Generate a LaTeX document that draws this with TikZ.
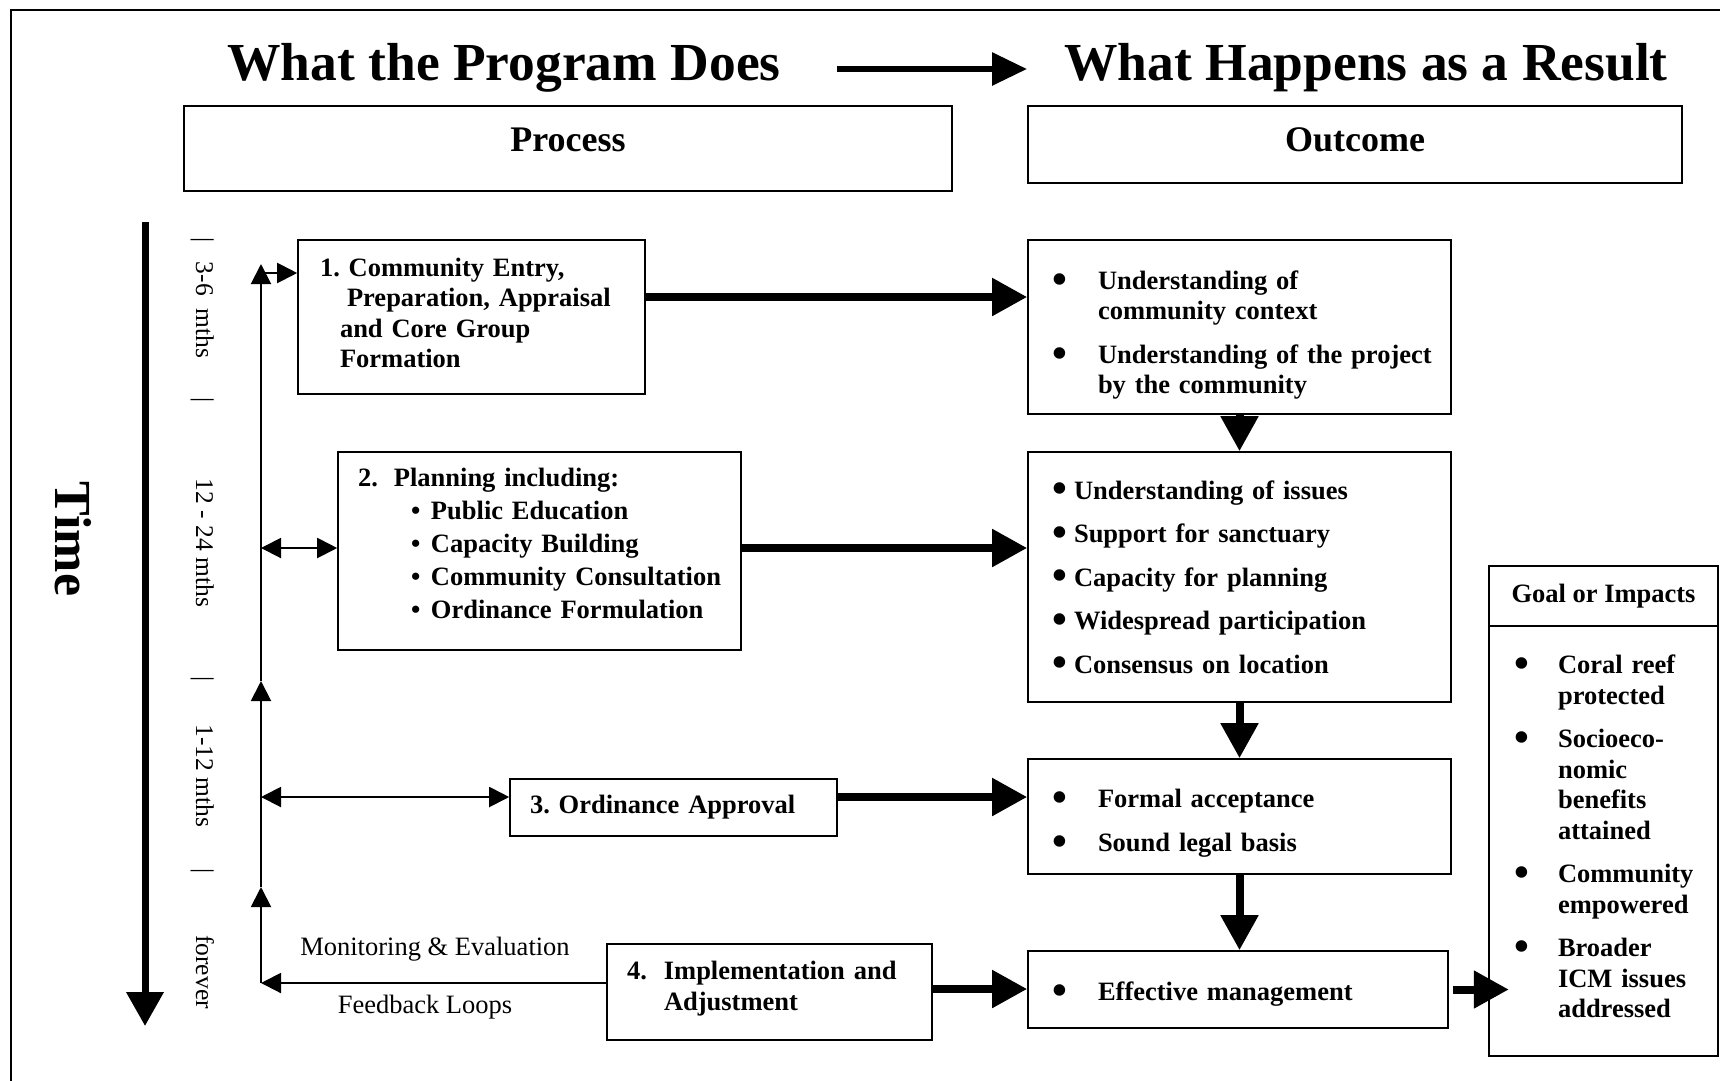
\documentclass[tikz,border=0pt]{standalone}
\usepackage{fontspec}
\setmainfont{Liberation Serif}
\usetikzlibrary{arrows.meta}

\newcommand{\txt}{\fontsize{26.5}{30.5}\selectfont\bfseries}
\newcommand{\bdot}{\hspace*{-4pt}\raisebox{-3.8pt}{\scalebox{1.6}{\textbullet}}}
\frenchspacing

\begin{document}
\begin{tikzpicture}[x=1pt,y=-1pt,
    tbox/.style={draw, line width=1.6pt, align=left, inner xsep=0pt, inner ysep=0pt, font=\txt},
    hbox/.style={draw, line width=1.6pt, font=\fontsize{36}{40}\selectfont\bfseries},
    fat/.style={line width=8pt, -{Triangle[length=35pt,width=36pt]}},
    thinarr/.style={line width=2pt, -{Triangle[length=20pt,width=20pt]}},
    twoarr/.style={line width=2pt, {Triangle[length=20pt,width=20pt]}-{Triangle[length=20pt,width=20pt]}},
    tmark/.style={rotate=-90, anchor=base, inner sep=0pt, font=\fontsize{25.5}{25.5}\selectfont}]
    \useasboundingbox (0,0) rectangle (1720,1080);
    \draw[line width=1.5pt] (11,1100) |- (1740,10);

    % headings
    \node[anchor=base, inner sep=0pt, font=\fontsize{53.5}{60}\selectfont\bfseries] (t1) at (504,80) {What the Program Does};
    \node[anchor=base, inner sep=0pt, font=\fontsize{53.5}{60}\selectfont\bfseries] (t2) at (1366,80) {What Happens as a Result};
    \coordinate (h1) at (837,69);
    \coordinate (h2) at (1027,69);
    \draw[line width=6pt, -{Triangle[length=35pt,width=32pt]}] (h1) -- (h2);
    \node[hbox, minimum width=768pt, minimum height=85pt, text depth=17pt] (proc) at (568,148.5) {Process};
    \node[hbox, minimum width=654pt, minimum height=77pt, text depth=9.6pt] (outc) at (1355,144.5) {Outcome};

    % time axis
    \coordinate (tA) at (145,222);
    \coordinate (tB) at (145,1026);
    \draw[line width=7pt, -{Triangle[length=34pt,width=36pt]}] (tA) -- (tB);
    \node[rotate=-90, anchor=base, inner sep=0pt, font=\fontsize{52}{52}\selectfont\bfseries] (time) at (55,539) {Time};
    \node[tmark] (k1) at (196,240) {|};
    \node[tmark] (k2) at (196,400) {|};
    \node[tmark] (k3) at (196,679) {|};
    \node[tmark] (k4) at (196,871) {|};
    \node[tmark] (m1) at (196,310) {3-6\enspace mths};
    \node[tmark] (m2) at (196,543) {12 - 24 mths};
    \node[tmark] (m3) at (196,776) {1-12 mths};
    \node[tmark] (m4) at (196,972) {forever};

    % process steps
    \node[tbox, text width=347pt, minimum height=154pt] (p1) at (471.5,317)
        {\leftskip=22pt\relax 1. Community Entry,\\ \hspace*{27pt}Preparation, Appraisal\\ \hspace*{20pt}and Core Group\\ \hspace*{20pt}Formation\rule[-8pt]{0pt}{0pt}\par};
    \node[tbox, text width=403pt, minimum height=198pt] (p2) at (539.5,551)
        {\fontsize{26.5}{33}\selectfont\leftskip=20pt\relax 2.\hspace{16pt}Planning including:\\
         \hspace*{53pt}\makebox[20pt][l]{\textbullet}Public Education\\
         \hspace*{53pt}\makebox[20pt][l]{\textbullet}Capacity Building\\
         \hspace*{53pt}\makebox[20pt][l]{\textbullet}Community Consultation\\
         \hspace*{53pt}\makebox[20pt][l]{\textbullet}Ordinance Formulation\rule[-16pt]{0pt}{0pt}\par};
    \node[tbox, text width=327pt, minimum height=57pt] (p3) at (673.5,807.5)
        {\leftskip=20pt\relax 3. Ordinance Approval\par};
    \node[tbox, text width=325pt, minimum height=96pt] (p4) at (769.5,992)
        {\leftskip=20pt\relax 4.\hspace{17pt}Implementation and\\ \hspace*{37pt}Adjustment\rule[-12pt]{0pt}{0pt}\par};

    % outcomes
    \node[tbox, text width=423pt, minimum height=174pt] (o1) at (1239.5,327)
        {\leftskip=28pt\relax \rule{0pt}{35pt}\makebox[42pt][l]{\bdot}Understanding of\\ \hspace*{42pt}community context\\[13pt]
         \makebox[42pt][l]{\bdot}Understanding of the project\\ \hspace*{42pt}by the community\par};
    \node[tbox, text width=423pt, minimum height=250pt] (o2) at (1239.5,577)
        {\leftskip=28pt\relax \rule{0pt}{22pt}\makebox[18pt][l]{\bdot}Understanding of issues\\[13pt]
         \makebox[18pt][l]{\bdot}Support for sanctuary\\[13pt]
         \makebox[18pt][l]{\bdot}Capacity for planning\\[13pt]
         \makebox[18pt][l]{\bdot}Widespread participation\\[13pt]
         \makebox[18pt][l]{\bdot}Consensus on location\par};
    \node[tbox, text width=423pt, minimum height=115pt] (o3) at (1239.5,816.5)
        {\leftskip=28pt\relax \rule{0pt}{32pt}\makebox[42pt][l]{\bdot}Formal acceptance\\[13pt]
         \makebox[42pt][l]{\bdot}Sound legal basis\par};
    \node[tbox, text width=420pt, minimum height=77pt] (o4) at (1238,989.5)
        {\leftskip=28pt\relax \rule{0pt}{27.5pt}\makebox[42pt][l]{\bdot}Effective management\par};

    % goal
    \node[draw, line width=1.6pt, minimum width=229pt, minimum height=60pt, inner sep=0pt, font=\txt] (gh) at (1603.5,596) {Goal or Impacts};
    \node[tbox, text width=229pt, minimum height=430pt] (goal) at (1603.5,841)
        {\leftskip=29pt\relax \makebox[40pt][l]{\bdot}Coral reef\\ \hspace*{40pt}protected\\[13pt]
         \makebox[40pt][l]{\bdot}Socioeco-\\ \hspace*{40pt}nomic\\ \hspace*{40pt}benefits\\ \hspace*{40pt}attained\\[13pt]
         \makebox[40pt][l]{\bdot}Community\\ \hspace*{40pt}empowered\\[13pt]
         \makebox[40pt][l]{\bdot}Broader\\ \hspace*{40pt}ICM issues\\ \hspace*{40pt}addressed\rule[-9pt]{0pt}{0pt}\par};

    % feedback line on the left
    \coordinate (v0) at (261,983);
    \coordinate (v1) at (261,887);
    \coordinate (v2) at (261,681);
    \coordinate (v3) at (261,264);
    \draw[thinarr] (v0) -- (v1);
    \draw[thinarr] (v1) -- (v2);
    \draw[thinarr] (v2) -- (v3);
    \coordinate (e1) at (261,273);
    \coordinate (e2) at (261,548);
    \coordinate (e3) at (261,797);
    \draw[thinarr] (e1) -- (e1 -| p1.west);
    \draw[twoarr] (e2) -- (e2 -| p2.west);
    \draw[twoarr] (e3) -- (e3 -| p3.west);
    \draw[thinarr] (v0 -| p4.west) -- (v0);
    \node[anchor=base, font=\fontsize{26.5}{30}\selectfont] (mon) at (435,955) {Monitoring \& Evaluation};
    \node[anchor=base, font=\fontsize{26.5}{30}\selectfont] (fbl) at (425,1013) {Feedback Loops};

    % process to outcome
    \coordinate (a1) at ([yshift=20pt]p1.east);
    \coordinate (a2) at ([yshift=3pt]p2.east);
    \coordinate (a3) at ([yshift=10.5pt]p3.east);
    \coordinate (a4) at ([yshift=3pt]p4.east);
    \coordinate (a5) at ([xshift=4pt]o4.east);
    \draw[fat] (a1) -- (a1 -| o1.west);
    \draw[fat] (a2) -- (a2 -| o2.west);
    \draw[fat] (a3) -- (a3 -| o3.west);
    \draw[fat] (a4) -- (a4 -| o4.west);
    \draw[fat] (a5) -- ++(56,0);
    \draw[fat] (o1.south) -- (o2.north);
    \draw[fat] (o2.south) -- (o3.north);
    \draw[fat] (o3.south) -- (o3.south |- o4.north);
\end{tikzpicture}
\end{document}
